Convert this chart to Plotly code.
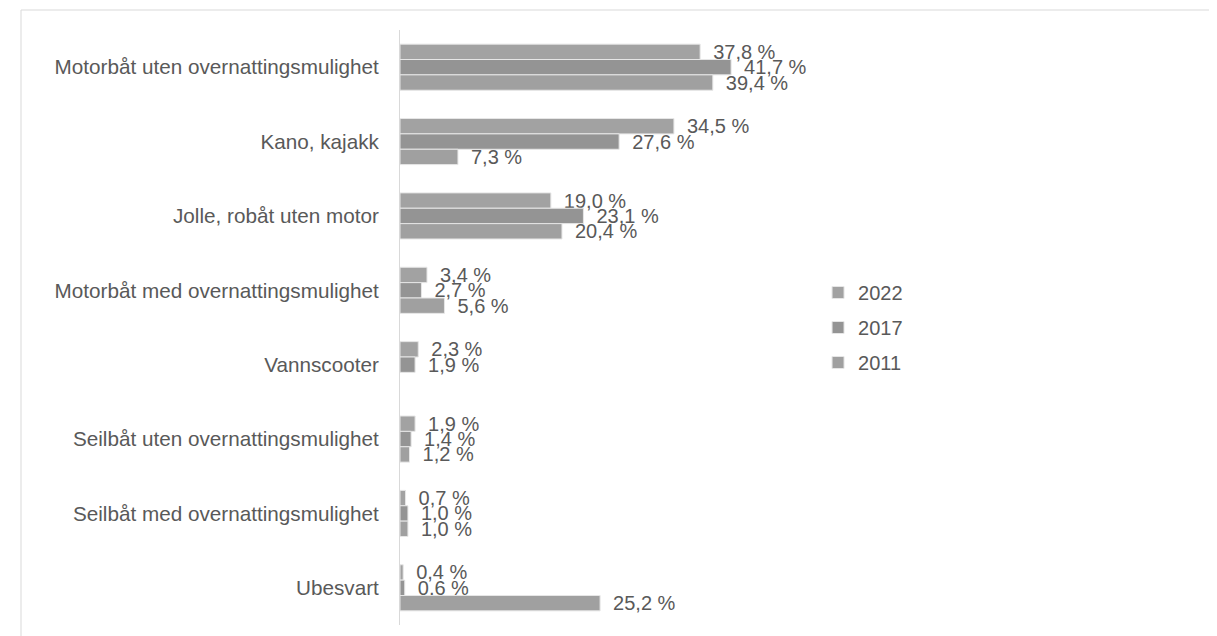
import plotly.graph_objects as go

categories = [
    "Motorbåt uten overnattingsmulighet",
    "Kano, kajakk",
    "Jolle, robåt uten motor",
    "Motorbåt med overnattingsmulighet",
    "Vannscooter",
    "Seilbåt uten overnattingsmulighet",
    "Seilbåt med overnattingsmulighet",
    "Ubesvart",
]

years = ["2022", "2017", "2011"]
values_2022 = [37.8, 34.5, 19.0, 3.4, 2.3, 1.9, 0.7, 0.4]
values_2017 = [41.7, 27.6, 23.1, 2.7, 1.9, 1.4, 1.0, 0.6]
values_2011 = [39.4, 7.3, 20.4, 5.6, None, 1.2, 1.0, 25.2]

series = [values_2022, values_2017, values_2011]
colors = ["#a2a2a2", "#949494", "#a0a0a0"]


def label(v):
    # norsk desimalkomma
    if v is None:
        return ""
    return "\u2002" + f"{v:.1f} %".replace(".", ",")


# plottområdet i piksler (siden har 8 px marg i body)
L, R, T, B = 392, 789, 22, 617

fig = go.Figure()
for year, vals, col in zip(years, series, colors):
    fig.add_trace(go.Bar(
        y=categories,
        x=vals,
        name=year,
        orientation="h",
        legendgroup=year,
        marker=dict(color=col, line=dict(color="#e6e6e6", width=1)),
        text=[label(v) for v in vals],
        textposition="outside",
        constraintext="none",
        cliponaxis=False,
        textfont=dict(size=20, color="#595959"),
        hoverinfo="x+y",
    ))

fig.update_layout(
    width=1217,
    height=636,
    barmode="group",
    bargap=0.38,
    bargroupgap=0,
    plot_bgcolor="white",
    paper_bgcolor="white",
    font=dict(family="Liberation Sans, Arial, sans-serif", size=20, color="#595959"),
    margin=dict(l=L, r=1217 - R, t=T, b=636 - B),
    legend=dict(
        x=1.053, y=0.5, xanchor="left", yanchor="middle",
        traceorder="grouped", tracegroupgap=6,
        font=dict(size=20, color="#595959"),
        itemwidth=30,
    ),
    showlegend=True,
)

fig.update_xaxes(range=[0, 50], visible=False, showgrid=False, zeroline=False)
fig.update_yaxes(
    autorange="reversed",
    showline=True,
    linecolor="#d9d9d9",
    linewidth=1,
    showgrid=False,
    ticks="",
    ticklabelstandoff=16,
    tickfont=dict(size=20.7, color="#595959"),
)

# ramme rundt hele diagrammet
fig.add_shape(
    type="rect", xref="paper", yref="paper",
    x0=(13 - L) / (R - L), x1=(1205 - L) / (R - L),
    y0=(B - 640) / (B - T), y1=(B - 2) / (B - T),
    line=dict(color="#d9d9d9", width=1),
    layer="below",
)

fig.write_html("out.html")
